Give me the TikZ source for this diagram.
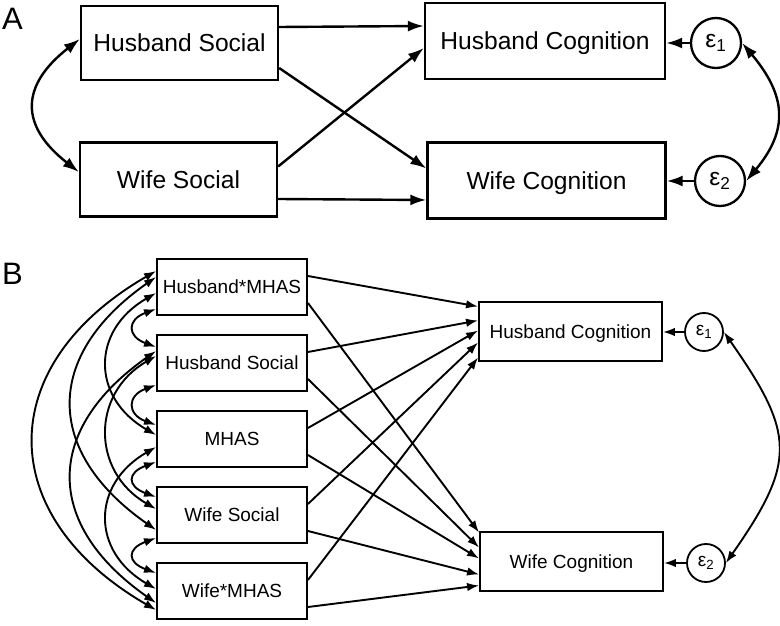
\documentclass[tikz,border=0pt]{standalone}
\usepackage{fontspec}
\setmainfont{Liberation Sans}
\usetikzlibrary{arrows.meta}
\begin{document}
\begin{tikzpicture}[x=1pt,y=1pt,
  panel/.style={inner sep=0pt,font=\fontsize{31}{36}\selectfont},
  boxA/.style={draw,line width=2.3pt,inner sep=0pt,minimum width=197pt,minimum height=74pt,text height=17.6pt,text depth=0pt,font=\fontsize{24.6}{29}\selectfont},
  errA/.style={draw,circle,line width=2.3pt,inner sep=0pt,minimum size=50pt,font=\fontsize{24.6}{29}\selectfont},
  boxB/.style={draw,line width=1.9pt,inner sep=0pt,minimum width=150pt,minimum height=56pt,text height=13.6pt,text depth=0pt,font=\fontsize{19}{23}\selectfont},
  errB/.style={draw,circle,line width=1.8pt,inner sep=0pt,minimum size=38pt,font=\fontsize{19}{23}\selectfont},
  pathA/.style={line width=2.4pt,-{Latex[length=16pt,width=11pt]}},
  covA/.style={line width=2.4pt,{Latex[length=16pt,width=11pt]}-{Latex[length=16pt,width=11pt]}},
  pathB/.style={line width=1.9pt,-{Latex[length=12pt,width=8.5pt]}},
  covB/.style={line width=1.9pt,{Latex[length=12pt,width=8.5pt]}-{Latex[length=12pt,width=8.5pt]}}]
\useasboundingbox (0,0) rectangle (780,625);
% panel A
\node[panel] (labA) at (12.5,606) {A};
\node[boxA] (hsA) at (179.5,582) {Husband Social};
\node[boxA] (wsA) at (178.5,445.5) {Wife Social};
\node[boxA,minimum width=240pt,minimum height=76pt] (hcA) at (545,584) {Husband Cognition};
\node[boxA,minimum width=238pt,minimum height=76pt] (wcA) at (546.5,444.5) {Wife Cognition};
\node[errA] (e1A) at (716,582) {ε\textsubscript{1}};
\node[errA] (e2A) at (720,444) {ε\textsubscript{2}};
\draw[pathA] ([yshift=16]hsA.east) -- ([yshift=15]hcA.west);
\draw[pathA] ([yshift=-25]hsA.east) -- ([yshift=12]wcA.west);
\draw[pathA] ([yshift=13]wsA.east) -- ([yshift=-7]hcA.west);
\draw[pathA] ([yshift=-19.5]wsA.east) -- ([yshift=-19.5]wcA.west);
\draw[pathA] (e1A) -- (e1A -| hcA.east);
\draw[pathA] (e2A) -- (e2A -| wcA.east);
\draw[covA] ([yshift=4]hsA.west) to[out=-142,in=142,looseness=1.45] ([yshift=7.5]wsA.west);
\draw[covA] (e1A.east) to[out=-50,in=50,looseness=1.25] (e2A.east);
% panel B
\node[panel] (labB) at (12.5,351.5) {B};
\node[boxB] (hm) at (232,338) {Husband*MHAS};
\node[boxB] (hs) at (232,262) {Husband Social};
\node[boxB] (mh) at (232,186) {MHAS};
\node[boxB] (ws) at (232,110) {Wife Social};
\node[boxB] (wm) at (232,34) {Wife*MHAS};
\node[boxB,minimum width=183pt,minimum height=59pt] (hc) at (570.5,293.5) {Husband Cognition};
\node[boxB,minimum width=183pt,minimum height=59pt] (wc) at (571.5,63.5) {Wife Cognition};
\node[errB] (e1) at (704,293) {ε\textsubscript{1}};
\node[errB] (e2) at (706,62) {ε\textsubscript{2}};
\foreach \v/\hcy/\wcy in {hm/25/29,hs/11/14,mh/1/3,ws/-11/-13,wm/-26/-24}{
  \draw[pathB] ([yshift=11]\v.east) -- ([yshift=\hcy]hc.west);
  \draw[pathB] ([yshift=-16]\v.east) -- ([yshift=\wcy]wc.west);
}
\draw[pathB] (e1) -- (e1 -| hc.east);
\draw[pathB] (e2) -- (e2 -| wc.east);
\draw[covB] (e1.east) to[out=-55,in=55,looseness=1.37] (e2.east);
% covariances among the predictors
\foreach \a/\b/\sa/\sb/\t/\l in {hm/hs/-22/16/20/31,hs/mh/-22/14/20/31,mh/ws/-23/18/20/31,ws/wm/-23/18/20/31,
  hm/mh/-6/4/30/75,hs/ws/7/6/30/75,mh/wm/-8/2/30/75,
  hm/ws/10/-15/35/137,hs/wm/12/-12/35/137,hm/wm/16/-19/30/188}
  \draw[covB] ([yshift=\sa]\a.west) .. controls +(180+\t:\l) and +(180-\t:\l) .. ([yshift=\sb]\b.west);
\end{tikzpicture}
\end{document}
